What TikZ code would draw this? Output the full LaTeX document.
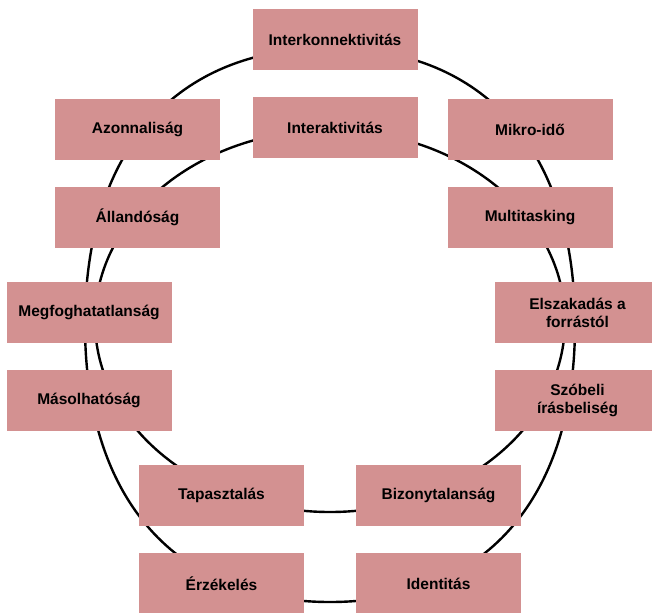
\documentclass[tikz,border=0pt]{standalone}
\usepackage{fontspec}
\setmainfont{Liberation Sans}
\usetikzlibrary{positioning}
\definecolor{Rose}{HTML}{D39191}
\tikzset{
  topic/.style={fill=Rose,minimum width=165pt,minimum height=61pt,inner sep=0pt,align=center,font=\fontsize{15.5}{18}\selectfont\bfseries},
  ring/.style={draw=black,line width=2.4pt},
}
\begin{document}
\begin{tikzpicture}[x=1pt,y=-1pt,line join=round]
\clip (0,0) rectangle (652,612);
% two rings behind the boxes
\draw[ring] (85,325) .. controls (85,150) and (175.6,48) .. (330,48)
  .. controls (484.4,48) and (575,150) .. (575,325)
  .. controls (575,499) and (484.4,602) .. (330,602)
  .. controls (175.6,602) and (85,499) .. cycle;
\draw[ring] (330,321) ellipse [x radius=235, y radius=191];
% boxes
\node[topic] (interkon) at (335,40) {Interkonnektivitás};
\node[topic] (interakt) at (335,127.5) {Interaktivitás};
\node[topic] (azonnal) at (137.5,129.5) {Azonnaliság};
\node[topic] (mikro) at (530,129.5) {Mikro-idő};
\node[topic] (allando) at (137.5,217.5) {Állandóság};
\node[topic] (multi) at (530,217.5) {Multitasking};
\node[topic] (megfog) at (89,312.5) {Megfoghatatlanság};
\node[topic] (elszak) at (577.5,312.5) {Elszakadás a\\forrástól};
\node[topic] (masol) at (89,400.5) {Másolhatóság};
\node[topic] (szobeli) at (577.5,400.5) {Szóbeli\\írásbeliség};
\node[topic] (tapaszt) at (221.5,495.5) {Tapasztalás};
\node[topic] (bizonyt) at (438.5,495.5) {Bizonytalanság};
\node[topic] (erzek) at (221.5,583.5) {Érzékelés};
\node[topic] (ident) at (438.5,583.5) {Identitás};
\end{tikzpicture}
\end{document}
